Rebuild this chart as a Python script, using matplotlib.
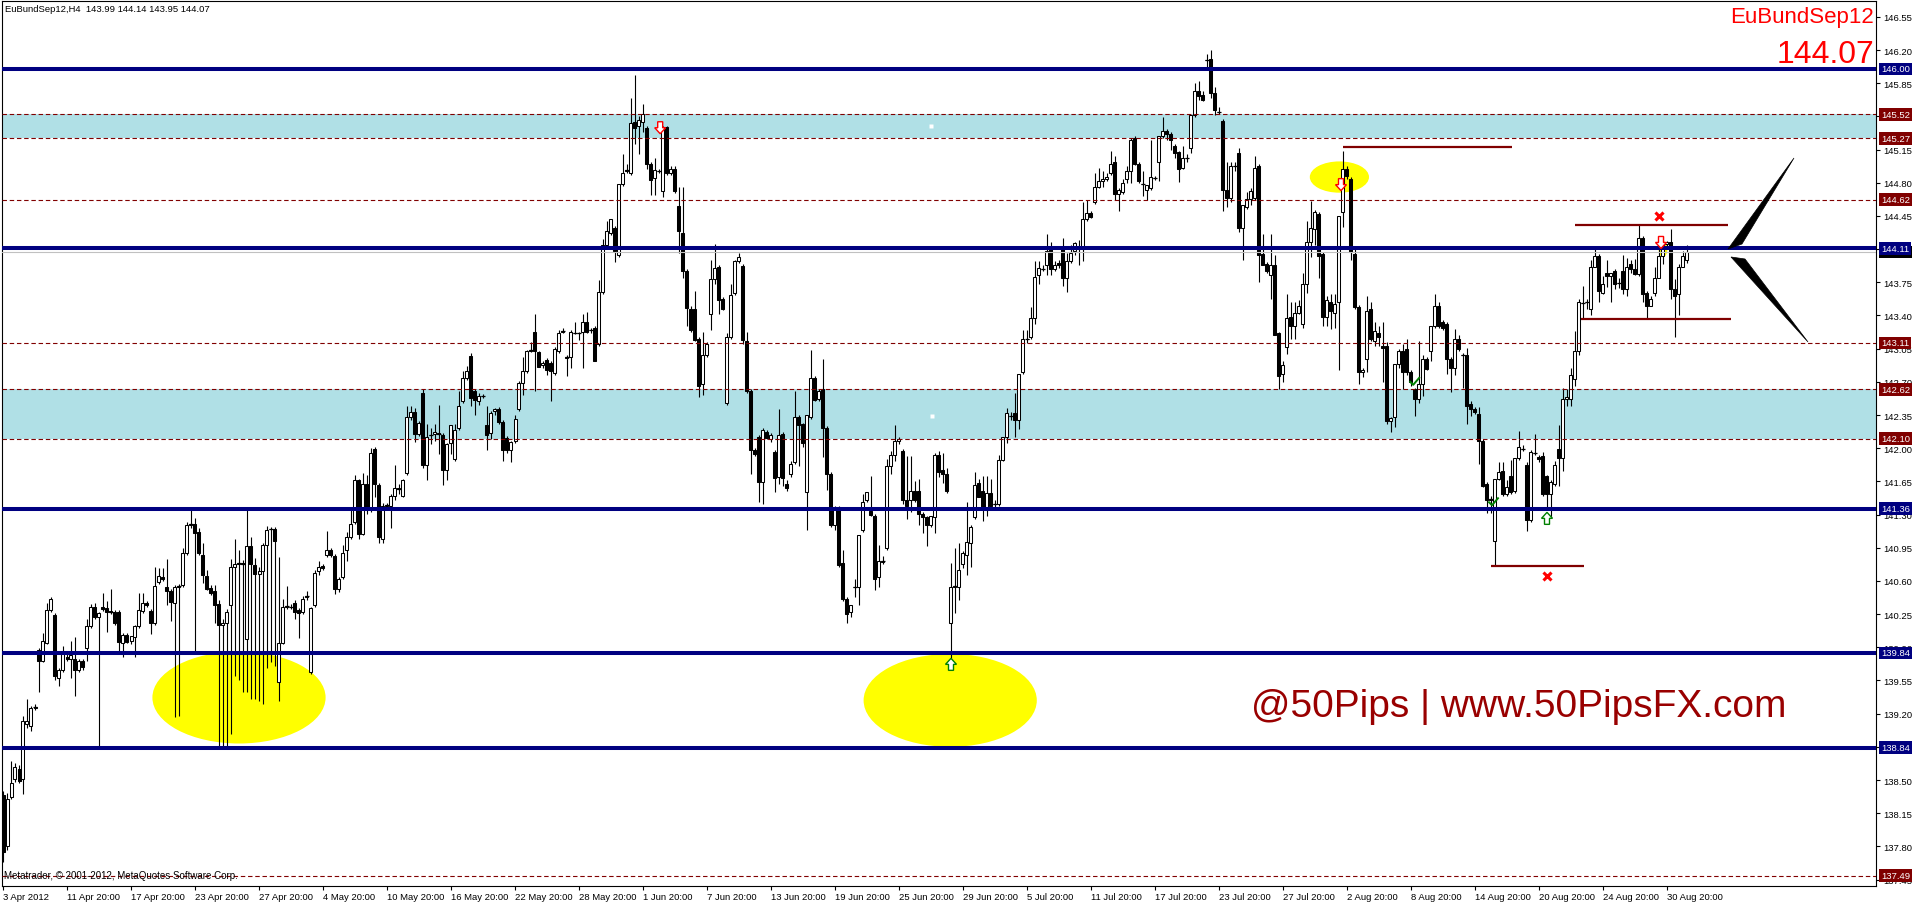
import numpy as np
import matplotlib
matplotlib.use("Agg")
import matplotlib.pyplot as plt
from matplotlib.patches import Ellipse, Polygon
from matplotlib.transforms import blended_transform_factory

plt.rcParams['font.family'] = ['Liberation Sans', 'DejaVu Sans']

# ---- OHLC data (H4 bars): (open, high, low, close)
seg_apr = [
    (138.34, 138.38, 137.63, 137.74), (137.80, 138.36, 137.76, 138.30), (138.32, 138.70, 138.30, 138.47),
    (138.51, 138.68, 138.48, 138.64), (138.62, 138.66, 138.47, 138.49), (138.51, 139.18, 138.35, 139.12),
    (139.09, 139.35, 139.05, 139.12), (139.07, 139.28, 139.02, 139.26), (139.26, 139.30, 139.24, 139.27),
    (139.87, 139.89, 139.43, 139.76), (139.76, 140.05, 139.74, 139.97), (139.95, 140.37, 139.93, 140.29),
    (140.29, 140.43, 140.27, 140.41), (140.24, 140.26, 139.56, 139.60), (139.58, 139.68, 139.49, 139.66),
    (139.66, 139.91, 139.64, 139.83), (139.80, 139.83, 139.76, 139.78), (139.78, 139.97, 139.58, 139.82),
    (139.78, 140.01, 139.39, 139.66), (139.66, 139.78, 139.64, 139.76), (139.76, 139.78, 139.66, 139.69),
    (139.89, 140.20, 139.76, 140.12), (140.12, 140.36, 140.10, 140.33), (140.33, 140.37, 140.20, 140.22),
    (140.22, 140.27, 138.84, 140.26), (140.33, 140.47, 140.28, 140.30), (140.31, 140.39, 140.06, 140.27),
    (140.28, 140.52, 140.25, 140.27), (140.27, 140.29, 140.14, 140.16), (140.27, 140.29, 139.83, 139.96),
    (139.95, 140.05, 139.80, 140.03), (140.03, 140.05, 139.94, 139.96), (139.97, 140.00, 139.93, 140.02),
    (140.01, 140.14, 139.80, 140.12), (140.12, 140.47, 140.10, 140.29), (140.28, 140.47, 140.26, 140.37),
    (140.37, 140.39, 140.33, 140.35), (140.28, 140.30, 140.04, 140.16), (140.16, 140.75, 140.14, 140.55),
    (140.59, 140.74, 140.57, 140.65), (140.64, 140.74, 140.60, 140.62), (140.54, 140.83, 140.35, 140.49),
    (140.49, 140.51, 140.18, 140.38), (140.37, 140.56, 139.16, 140.54), (140.54, 140.57, 139.18, 140.55),
    (140.56, 140.95, 140.54, 140.89), (140.89, 141.22, 140.87, 141.19), (141.19, 141.35, 141.16, 141.20),
    (141.20, 141.26, 139.83, 141.11), (141.12, 141.16, 140.87, 140.89), (140.87, 141.00, 140.58, 140.66),
    (140.65, 140.72, 140.50, 140.51), (140.53, 140.56, 140.45, 140.47), (140.49, 140.56, 140.16, 140.35),
    (140.36, 140.40, 138.86, 140.14), (140.14, 140.20, 138.86, 140.16), (140.16, 140.30, 138.86, 140.27),
    (140.35, 140.83, 138.99, 140.75), (140.75, 141.04, 139.60, 140.78), (140.78, 140.93, 139.55, 140.79),
    (140.79, 140.82, 139.43, 140.78), (139.99, 141.35, 139.43, 140.97), (140.97, 141.06, 139.35, 140.78),
    (140.77, 140.84, 139.35, 140.67), (140.67, 140.75, 139.33, 140.70), (140.70, 141.00, 139.30, 140.98),
    (140.98, 141.18, 139.68, 141.14), (141.15, 141.17, 139.74, 141.15), (141.15, 141.17, 139.70, 141.02),
    (139.53, 140.85, 139.33, 139.95), (139.95, 140.41, 139.93, 140.33), (140.33, 140.55, 140.30, 140.34),
    (140.33, 140.36, 140.30, 140.32), (140.37, 140.40, 140.20, 140.27), (140.29, 140.31, 140.00, 140.26),
    (140.27, 140.44, 140.25, 140.41), (140.43, 140.49, 140.40, 140.44), (139.64, 140.33, 139.62, 140.31),
    (140.35, 140.72, 140.33, 140.68), (140.70, 140.81, 140.66, 140.75), (140.76, 140.78, 140.71, 140.74),
    (140.87, 141.13, 140.85, 140.93), (140.93, 140.95, 140.85, 140.87), (140.86, 140.88, 140.46, 140.51),
    (140.52, 140.64, 140.48, 140.62), (140.64, 140.98, 140.62, 140.89), (140.93, 141.12, 140.81, 141.06),
    (141.06, 141.35, 141.04, 141.20), (141.22, 141.72, 141.20, 141.66), (141.66, 141.68, 141.04, 141.10),
    (141.10, 141.74, 141.08, 141.62), (141.62, 141.72, 141.31, 141.35), (141.37, 142.00, 141.33, 141.95),
    (141.99, 142.01, 141.48, 141.62), (141.61, 141.63, 141.00, 141.06), (141.04, 141.42, 141.00, 141.39),
    (141.39, 141.42, 141.35, 141.40), (141.39, 141.52, 141.16, 141.50), (141.50, 141.82, 141.45, 141.58),
    (141.58, 141.62, 141.52, 141.57), (141.50, 141.67, 141.48, 141.66), (141.74, 142.45, 141.72, 142.33),
    (142.33, 142.45, 142.30, 142.38), (142.38, 142.42, 142.07, 142.15), (142.15, 142.29, 142.13, 142.27),
    (142.58, 142.62, 141.79, 141.82), (141.82, 142.25, 141.66, 142.12),
]

seg_jun = [
    (142.14, 142.21, 142.04, 142.14), (142.15, 142.25, 142.08, 142.17), (142.16, 142.46, 141.94, 142.15),
    (142.14, 142.16, 141.61, 141.77), (141.77, 142.06, 141.66, 142.04), (142.06, 142.24, 141.94, 142.24),
    (141.89, 142.25, 141.87, 142.19), (142.21, 142.60, 142.19, 142.44), (142.50, 142.81, 142.48, 142.74),
    (142.74, 142.87, 142.72, 142.81), (142.97, 143.00, 142.44, 142.53), (142.60, 142.62, 142.35, 142.51),
    (142.50, 142.58, 142.46, 142.55), (142.55, 142.57, 142.53, 142.55), (142.24, 142.44, 141.98, 142.14),
    (142.16, 142.39, 142.10, 142.37), (142.39, 142.42, 142.35, 142.41), (142.41, 142.43, 142.26, 142.28),
    (142.28, 142.30, 141.87, 141.98), (142.11, 142.13, 141.95, 141.98), (141.98, 142.08, 141.85, 142.07),
    (142.08, 142.35, 142.06, 142.31), (142.41, 142.71, 142.39, 142.69), (142.69, 142.96, 142.56, 142.81),
    (142.81, 143.04, 142.79, 143.02), (143.03, 143.12, 143.01, 143.04), (143.23, 143.42, 142.60, 143.02),
    (143.01, 143.03, 142.86, 142.86), (142.88, 142.92, 142.85, 142.90), (142.93, 142.95, 142.77, 142.83),
    (142.90, 142.92, 142.50, 142.81), (142.79, 143.07, 142.77, 143.05), (143.02, 143.25, 143.00, 143.21),
    (143.23, 143.27, 143.21, 143.24), (142.95, 142.98, 142.76, 142.96), (142.96, 143.25, 142.85, 143.23),
    (143.22, 143.33, 143.20, 143.22), (143.21, 143.23, 143.14, 143.21), (143.23, 143.42, 142.85, 143.33),
    (143.33, 143.44, 143.21, 143.23), (143.25, 143.27, 143.22, 143.25), (143.27, 143.29, 142.92, 142.92),
    (143.10, 143.77, 143.08, 143.65), (143.65, 144.21, 143.63, 144.14), (144.14, 144.40, 144.12, 144.29),
    (144.27, 144.42, 144.25, 144.42), (144.32, 144.34, 143.96, 144.08), (144.04, 144.79, 144.02, 144.79),
    (144.79, 145.10, 144.77, 144.90), (144.92, 145.00, 144.90, 144.93), (144.90, 145.69, 144.88, 145.43),
    (145.44, 145.94, 145.21, 145.38), (145.40, 145.50, 145.10, 145.46), (145.44, 145.63, 145.33, 145.52),
    (145.38, 145.40, 144.94, 145.00), (145.00, 145.02, 144.67, 144.83), (144.85, 145.06, 144.67, 144.93),
    (144.92, 144.95, 144.90, 144.92), (144.71, 145.40, 144.65, 145.39), (145.39, 145.40, 144.88, 144.90),
    (144.90, 144.98, 144.88, 144.95), (144.95, 144.98, 144.69, 144.71), (144.55, 144.75, 144.06, 144.29),
    (144.27, 144.75, 143.79, 143.87), (143.87, 143.89, 143.29, 143.48), (143.47, 143.50, 143.23, 143.25),
    (143.47, 143.66, 143.13, 143.14), (143.15, 143.17, 142.54, 142.66), (142.68, 143.23, 142.56, 142.98),
    (142.98, 143.12, 142.96, 143.10), (143.42, 143.98, 143.25, 143.78), (143.78, 144.15, 143.73, 143.90),
    (143.91, 143.93, 143.42, 143.56), (143.57, 143.59, 143.46, 143.47), (142.48, 143.21, 142.46, 143.17),
    (143.17, 143.73, 143.15, 143.62), (143.64, 143.99, 143.62, 143.97), (143.97, 144.06, 143.95, 144.02),
    (143.92, 143.94, 143.10, 143.14), (143.13, 143.23, 142.58, 142.60), (142.60, 142.62, 141.73, 141.98),
    (141.98, 142.00, 141.92, 141.94), (142.12, 142.14, 141.43, 141.64), (141.64, 142.21, 141.41, 142.19),
    (142.17, 142.19, 142.10, 142.11), (142.10, 142.16, 142.07, 142.14), (141.96, 141.98, 141.54, 141.69),
    (141.70, 142.41, 141.62, 142.14), (142.15, 142.17, 141.60, 141.69), (141.62, 141.66, 141.55, 141.58),
    (141.73, 141.87, 141.70, 141.83), (141.85, 142.60, 141.83, 142.33), (142.33, 142.35, 141.81, 142.24),
    (142.25, 142.27, 142.01, 142.06), (141.54, 142.35, 141.14, 142.35), (142.33, 143.04, 142.31, 142.74),
    (142.74, 142.76, 142.50, 142.51), (142.52, 142.62, 142.50, 142.60), (142.62, 142.94, 141.91, 142.21),
    (142.21, 142.23, 141.56, 141.73), (141.73, 141.75, 141.17, 141.19), (141.19, 141.39, 141.14, 141.35),
    (141.37, 141.39, 140.75, 140.77), (140.79, 140.93, 140.39, 140.41), (140.41, 140.43, 140.16, 140.25),
    (140.27, 140.33, 140.22, 140.35), (140.54, 140.62, 140.43, 140.54), (140.54, 141.08, 140.35, 141.08),
    (141.14, 141.52, 141.12, 141.43), (141.45, 141.54, 141.43, 141.54),
]

seg_jul = [
    (141.34, 141.71, 141.28, 141.30), (141.29, 141.31, 140.50, 140.62), (140.64, 140.98, 140.54, 140.81),
    (140.80, 140.86, 140.78, 140.81), (140.95, 141.89, 140.93, 141.81), (141.81, 141.97, 141.73, 141.93),
    (141.93, 142.24, 141.87, 142.08), (142.08, 142.12, 142.04, 142.10), (141.97, 141.99, 141.41, 141.45),
    (141.45, 141.92, 141.25, 141.39), (141.45, 141.92, 141.33, 141.55), (141.55, 141.65, 141.43, 141.45),
    (141.55, 141.67, 141.19, 141.31), (141.31, 141.33, 141.11, 141.27), (141.27, 141.29, 140.97, 141.19),
    (141.19, 141.29, 141.17, 141.29), (141.27, 141.95, 141.11, 141.93), (141.93, 141.97, 141.70, 141.75),
    (141.77, 141.95, 141.63, 141.73), (141.73, 141.79, 141.53, 141.55), (140.16, 140.79, 139.74, 140.54),
    (140.54, 140.95, 140.26, 140.55), (140.54, 141.00, 140.40, 140.72), (140.78, 140.92, 140.74, 140.89),
    (140.87, 141.43, 140.66, 141.01), (141.00, 141.19, 140.75, 141.17), (141.27, 141.75, 141.25, 141.61),
    (141.63, 141.67, 141.48, 141.49), (141.55, 141.71, 141.23, 141.37), (141.35, 141.71, 141.29, 141.53),
    (141.53, 141.67, 141.38, 141.39), (141.41, 141.45, 141.35, 141.41), (141.41, 141.93, 141.39, 141.88),
    (141.88, 142.12, 141.86, 142.12), (142.12, 142.42, 142.06, 142.37), (142.34, 142.38, 142.30, 142.34),
    (142.37, 142.58, 142.12, 142.30), (142.30, 142.78, 142.20, 142.78), (142.80, 143.25, 142.78, 143.15),
    (143.15, 143.25, 143.11, 143.15), (143.17, 143.49, 143.15, 143.37), (143.37, 143.97, 143.31, 143.81),
    (143.83, 143.97, 143.73, 143.90), (143.89, 143.93, 143.87, 143.89), (143.93, 144.26, 143.83, 144.08),
    (144.10, 144.18, 143.83, 143.89), (143.89, 143.97, 143.87, 143.93), (143.95, 143.99, 143.90, 143.93),
    (144.10, 144.22, 143.71, 143.79), (143.79, 144.06, 143.65, 143.97), (143.97, 144.14, 143.95, 144.06),
    (144.08, 144.18, 144.04, 144.16), (144.12, 144.20, 143.93, 144.12), (144.10, 144.60, 143.97, 144.42),
    (144.42, 144.62, 144.40, 144.48), (144.48, 144.50, 144.43, 144.44), (144.60, 144.90, 144.58, 144.76),
    (144.76, 144.96, 144.74, 144.82), (144.82, 144.92, 144.76, 144.84), (144.84, 144.90, 144.82, 144.86),
    (144.90, 145.13, 144.88, 145.00), (145.02, 145.08, 144.62, 144.68), (144.68, 144.74, 144.50, 144.72),
    (144.70, 144.84, 144.68, 144.80), (144.84, 144.98, 144.80, 144.92), (144.92, 145.27, 144.80, 145.25),
    (145.27, 145.29, 144.99, 145.00), (145.00, 145.02, 144.80, 144.82), (144.79, 144.92, 144.66, 144.79),
    (144.72, 144.78, 144.62, 144.78), (144.74, 145.25, 144.72, 144.86), (144.85, 144.87, 144.83, 144.85),
    (145.02, 145.29, 144.82, 145.29), (145.29, 145.49, 145.27, 145.35), (145.35, 145.37, 145.25, 145.31),
    (145.31, 145.33, 145.15, 145.25), (145.19, 145.21, 145.06, 145.11), (145.12, 145.14, 144.81, 144.94),
    (144.96, 145.19, 144.94, 145.06), (145.06, 145.10, 145.02, 145.06), (145.17, 145.51, 145.11, 145.51),
    (145.51, 145.85, 145.49, 145.77), (145.77, 145.87, 145.67, 145.72), (145.73, 145.77, 145.66, 145.67),
    (146.09, 146.16, 145.99, 146.09), (146.11, 146.20, 145.69, 145.75), (145.75, 145.81, 145.51, 145.57),
    (145.55, 145.60, 145.53, 145.55), (145.45, 145.47, 144.50, 144.72), (144.72, 145.02, 144.54, 144.64),
    (144.64, 145.02, 144.60, 144.98), (144.98, 145.02, 144.92, 144.98), (145.11, 145.17, 144.28, 144.32),
    (144.32, 144.56, 143.99, 144.56), (144.54, 144.70, 144.52, 144.63), (144.63, 144.74, 144.56, 144.71),
    (144.64, 145.08, 144.62, 144.96), (144.98, 145.00, 143.75, 144.04), (144.05, 144.26, 143.93, 143.93),
    (143.94, 143.96, 143.85, 143.87), (143.83, 144.26, 143.57, 143.93), (143.93, 144.04, 143.19, 143.19),
    (143.21, 143.23, 142.62, 142.76), (142.78, 142.92, 142.70, 142.88), (143.07, 143.63, 142.99, 143.37),
]

seg_aug = [
    (143.38, 143.54, 143.15, 143.29), (143.29, 143.54, 143.15, 143.43), (143.43, 143.56, 143.42, 143.50),
    (143.31, 143.85, 143.27, 143.73), (143.73, 144.40, 143.64, 144.17), (144.17, 144.61, 144.02, 144.32),
    (144.31, 144.51, 144.14, 144.49), (144.47, 144.49, 143.80, 144.03), (144.05, 144.07, 143.29, 143.38),
    (143.38, 143.61, 143.29, 143.56), (143.54, 143.63, 143.26, 143.45), (143.43, 143.63, 143.27, 143.52),
    (143.54, 144.45, 142.82, 144.45), (144.49, 145.14, 144.33, 144.94), (144.95, 144.98, 144.84, 144.87),
    (144.84, 144.86, 143.98, 144.07), (144.05, 144.10, 143.47, 143.49), (143.49, 143.51, 142.68, 142.80),
    (142.80, 142.85, 142.75, 142.82), (142.94, 143.61, 142.80, 143.45), (143.47, 143.54, 143.13, 143.15),
    (143.13, 143.33, 143.08, 143.24), (143.22, 143.29, 143.08, 143.17), (143.08, 143.33, 142.70, 143.06),
    (143.08, 143.12, 142.26, 142.29), (142.29, 142.33, 142.17, 142.32), (142.33, 142.89, 142.22, 142.89),
    (142.89, 143.05, 142.85, 143.03), (143.03, 143.10, 142.62, 142.80), (143.05, 143.15, 142.77, 142.80),
    (142.80, 142.82, 142.66, 142.70), (142.62, 142.64, 142.34, 142.52), (142.52, 143.13, 142.48, 142.68),
    (142.68, 142.98, 142.55, 142.94), (142.94, 142.96, 142.82, 142.84), (143.03, 143.29, 142.92, 143.29),
    (143.29, 143.63, 143.27, 143.50), (143.50, 143.54, 143.27, 143.29), (143.33, 143.35, 143.25, 143.27),
    (143.31, 143.33, 142.78, 142.94), (142.94, 142.96, 142.59, 142.85), (142.85, 143.26, 142.77, 143.15),
    (143.15, 143.19, 143.03, 143.05), (142.98, 143.00, 142.63, 142.98), (142.98, 143.06, 142.26, 142.45),
    (142.47, 142.50, 142.34, 142.41), (142.41, 142.43, 142.36, 142.38), (142.36, 142.43, 141.83, 142.08),
    (142.08, 142.10, 141.59, 141.60), (141.62, 141.64, 141.32, 141.45), (141.45, 141.50, 141.32, 141.46),
    (141.02, 141.68, 140.76, 141.68), (141.68, 141.85, 141.66, 141.75), (141.76, 141.85, 141.50, 141.52),
    (141.52, 141.66, 141.50, 141.59), (141.71, 141.88, 141.52, 141.54), (141.55, 141.90, 141.53, 141.90),
    (141.90, 142.18, 141.88, 142.01), (141.99, 142.03, 141.97, 141.99), (141.82, 141.85, 141.13, 141.24),
    (141.24, 141.98, 141.22, 141.96), (141.95, 142.15, 141.93, 141.95), (141.91, 141.93, 141.85, 141.89),
    (141.92, 141.96, 141.50, 141.52), (141.71, 141.72, 141.36, 141.52), (141.52, 141.66, 141.26, 141.64),
    (141.62, 141.87, 141.60, 141.82), (141.99, 142.24, 141.60, 141.90), (141.90, 142.64, 141.76, 142.52),
    (142.52, 142.62, 142.45, 142.54), (142.52, 142.85, 142.45, 142.77), (142.73, 143.24, 142.66, 143.03),
    (143.03, 143.57, 142.98, 143.54), (143.53, 143.71, 143.36, 143.53), (143.54, 143.57, 143.47, 143.54),
    (143.47, 143.98, 143.40, 143.91), (143.91, 144.12, 143.91, 144.03), (144.03, 144.05, 143.54, 143.66),
    (143.64, 143.82, 143.63, 143.73), (143.85, 143.98, 143.70, 143.82), (143.82, 143.85, 143.54, 143.85),
    (143.87, 143.89, 143.68, 143.73), (143.74, 143.80, 143.69, 143.74), (143.87, 144.04, 143.63, 143.68),
    (143.68, 144.01, 143.61, 143.91), (143.94, 143.98, 143.85, 143.89), (143.89, 144.00, 143.83, 143.84),
    (143.84, 144.35, 143.82, 144.22), (144.22, 144.24, 143.54, 143.63), (143.64, 143.66, 143.36, 143.50),
    (143.50, 143.61, 143.50, 143.57), (143.64, 143.91, 143.61, 143.80), (143.80, 144.24, 143.80, 144.03),
    (144.03, 144.24, 143.94, 144.15), (144.15, 144.19, 144.10, 144.17), (144.17, 144.31, 143.57, 143.68),
    (143.68, 143.78, 143.17, 143.61), (143.63, 143.94, 143.40, 143.91), (143.91, 144.08, 143.91, 144.03),
    (143.99, 144.14, 143.95, 144.07),
]

# axis labels
date_labels = ["3 Apr 2012", "11 Apr 20:00", "17 Apr 20:00", "23 Apr 20:00", "27 Apr 20:00",
               "4 May 20:00", "10 May 20:00", "16 May 20:00", "22 May 20:00", "28 May 20:00",
               "1 Jun 20:00", "7 Jun 20:00", "13 Jun 20:00", "19 Jun 20:00", "25 Jun 20:00",
               "29 Jun 20:00", "5 Jul 20:00", "11 Jul 20:00", "17 Jul 20:00", "23 Jul 20:00",
               "27 Jul 20:00", "2 Aug 20:00", "8 Aug 20:00", "14 Aug 20:00", "20 Aug 20:00",
               "24 Aug 20:00", "30 Aug 20:00"]
price_ticks = [137.45, 137.80, 138.15, 138.50, 138.85, 139.20, 139.55, 139.90, 140.25,
               140.60, 140.95, 141.30, 141.65, 142.00, 142.35, 142.70, 143.05, 143.40,
               143.75, 144.10, 144.45, 144.80, 145.15, 145.50, 145.85, 146.20, 146.55]

# drawn objects
blue_levels = [146.00, 144.11, 141.36, 139.84, 138.84]
red_levels = [145.52, 145.27, 144.62, 143.11, 142.62, 142.10, 137.49]
zones = [(145.27, 145.52), (142.10, 142.62)]
bid = 144.07
# (x0 bar, x1 bar, price)
segments = [(335, 377.3, 145.18), (393, 431.3, 144.35), (394.5, 432, 143.36), (372, 395.3, 140.76)]
# ellipses: (x bar, price, width bars, height price)
ellipses = [(59, 139.37, 43.3, 0.97), (236.8, 139.34, 43.3, 0.98), (334.1, 144.86, 14.8, 0.33),
            (415, 144.10, 2.2, 0.17)]
down_arrows = [(164.3, 145.38), (334.5, 144.78), (414.5, 144.17)]
up_arrows = [(386, 141.26), (237, 139.72)]
checks = [(352.8, 142.70), (372.5, 141.43)]
stops = [(414, 144.45), (386, 140.65)]

W, H = 1914, 904
PXX, PXY = 4.0, 94.8   # pixels per bar / per price point


def fx(px):
    return px / W


def fy(py):
    return 1 - py / H


fig = plt.figure(figsize=(W / 100, H / 100), dpi=100)
fig.patch.set_facecolor('white')
ax = fig.add_axes([fx(2), fy(887), (1876 - 2) / W, (887 - 2) / H])
ax.set_xlim(-0.25, 468.25)
ax.set_ylim(137.382, 146.717)

rows = np.array(seg_apr + seg_jun + seg_jul + seg_aug)
o, h, l, c = rows.T
h = np.maximum(h, np.maximum(o, c))
l = np.minimum(l, np.minimum(o, c))
idx = np.arange(len(rows))
up = c >= o

# zones
for lo, hi in zones:
    ax.axhspan(lo, hi, color='#B0E0E6', lw=0, zorder=0.5)

# ellipses
for x, y, w, hh in ellipses:
    ax.add_patch(Ellipse((x, y), w, hh, facecolor='yellow', edgecolor='none', zorder=1))

# candles
ax.vlines(idx, l, h, color='black', lw=0.8, zorder=3)
ax.bar(idx[up], (c - o)[up], bottom=o[up], width=0.75, facecolor='white',
       edgecolor='black', lw=0.75, zorder=4)
ax.bar(idx[~up], (o - c)[~up], bottom=c[~up], width=0.75, facecolor='black',
       edgecolor='black', lw=0.75, zorder=4)
flat = np.abs(c - o) < 0.015
ax.hlines(c[flat], idx[flat] - 0.4, idx[flat] + 0.4, color='black', lw=0.9, zorder=4)

# levels
for lv in red_levels:
    ax.axhline(lv, color='#800000', lw=0.8, ls=(0, (4, 2.5)), zorder=5)
ax.axhline(bid, color='#C0C0C0', lw=0.8, zorder=5)
for lv in blue_levels:
    ax.axhline(lv, color='#000080', lw=2.9, zorder=6)
for x0, x1, y in segments:
    ax.plot([x0, x1], [y, y], color='#800000', lw=1.6, zorder=6, solid_capstyle='butt')


def px_poly(x, y, pts):
    return [(x + dx / PXX, y - dy / PXY) for dx, dy in pts]


arrow_pts = [(-2.5, -6), (2.5, -6), (2.5, 0), (5.5, 0), (0, 6), (-5.5, 0), (-2.5, 0)]
for x, y in down_arrows:
    ax.add_patch(Polygon(px_poly(x, y, arrow_pts), closed=True, facecolor='white',
                         edgecolor='#FF0000', lw=1.0, zorder=7))
for x, y in up_arrows:
    ax.add_patch(Polygon(px_poly(x, y, [(dx, -dy) for dx, dy in arrow_pts]), closed=True,
                         facecolor='white', edgecolor='#008000', lw=1.0, zorder=7))
for x, y in checks:
    pts = px_poly(x, y, [(-4, 0), (-1, 3), (5, -4)])
    ax.plot([p[0] for p in pts], [p[1] for p in pts], color='#008000', lw=1.4, zorder=7)
for x, y in stops:
    ax.plot(x, y, marker='x', color='#FF0000', ms=6, mew=2.2, zorder=7)

# white specks inside the zones
ax.plot([232, 232.3], [145.40, 142.34], ls='none', marker='s', ms=2.2, color='white',
        mec='none', zorder=2)

# wedge drawing at right (thin triangles, pixel corners)
wedges = [[(1728, 250), (1742, 245), (1794, 159)],
          [(1731, 258), (1745, 260), (1808, 343)]]
for wpx in wedges:
    pts = [((px - 3) / PXX, 146 - (py - 70) / PXY) for px, py in wpx]
    ax.add_patch(Polygon(pts, closed=True, facecolor='black', edgecolor='black', lw=0.5, zorder=7))

# axes styling
for s in ax.spines.values():
    s.set_color('black')
    s.set_linewidth(0.8)
ax.yaxis.tick_right()
ax.set_yticks(price_ticks)
ax.set_yticklabels([f"{t:.2f}" for t in price_ticks])
ax.tick_params(axis='y', length=3, width=0.8, pad=2, labelsize=6.8, colors='black')
ax.set_xticks(np.arange(len(date_labels)) * 16)
ax.set_xticklabels(date_labels)
ax.tick_params(axis='x', length=3, width=0.8, pad=1.5, labelsize=6.8)
for lab in ax.get_xticklabels():
    lab.set_horizontalalignment('left')

# price labels on the scale
trans = blended_transform_factory(fig.transFigure, ax.transData)
ax.text(fx(1881), bid, f"{bid:.2f}", transform=trans, color='white', fontsize=6.8,
        va='center', ha='left', zorder=10, clip_on=False,
        bbox=dict(boxstyle='square,pad=0.2', fc='black', ec='none'))
for lv, col in [(v, '#800000') for v in red_levels] + [(v, '#000080') for v in blue_levels]:
    ax.text(fx(1881), lv, f"{lv:.2f}", transform=trans, color='white', fontsize=6.8,
            va='center', ha='left', zorder=11, clip_on=False,
            bbox=dict(boxstyle='square,pad=0.2', fc=col, ec='none'))

# texts
fig.text(fx(5), fy(9), "EuBundSep12,H4  143.99 144.14 143.95 144.07", fontsize=6.8,
         va='center', ha='left')
fig.text(fx(1874), fy(23), "EuBundSep12", fontsize=16, color='#FF0000', ha='right',
         va='baseline')
fig.text(fx(1874), fy(63), "144.07", fontsize=23, color='#FF0000', ha='right', va='baseline')
fig.text(fx(1251), fy(717), "@50Pips | www.50PipsFX.com", fontsize=28, color='#990000',
         ha='left', va='baseline')
fig.text(fx(4), fy(876), "Metatrader, \u00a9 2001-2012, MetaQuotes Software Corp.", fontsize=7,
         ha='left', va='center')

fig.savefig("out.png", dpi=100, facecolor='white')
